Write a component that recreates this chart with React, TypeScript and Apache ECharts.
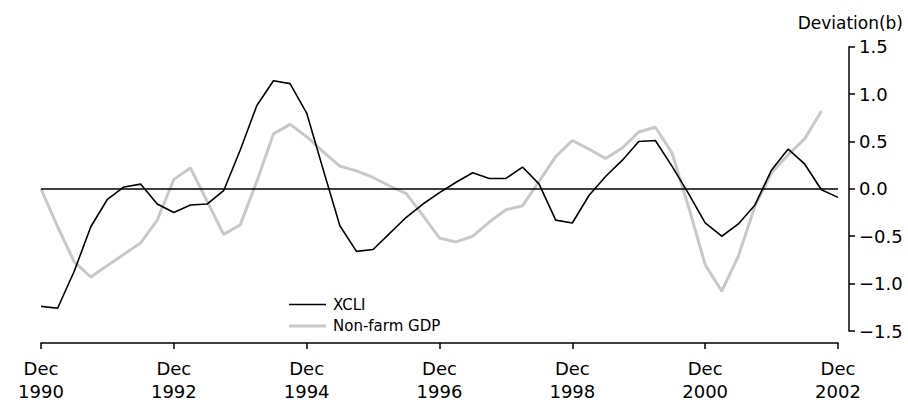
import React, { useEffect, useRef } from "react";
import * as echarts from "echarts";

const categories: string[] = [
  "Dec 1990", "Mar 1991", "Jun 1991", "Sep 1991",
  "Dec 1991", "Mar 1992", "Jun 1992", "Sep 1992",
  "Dec 1992", "Mar 1993", "Jun 1993", "Sep 1993",
  "Dec 1993", "Mar 1994", "Jun 1994", "Sep 1994",
  "Dec 1994", "Mar 1995", "Jun 1995", "Sep 1995",
  "Dec 1995", "Mar 1996", "Jun 1996", "Sep 1996",
  "Dec 1996", "Mar 1997", "Jun 1997", "Sep 1997",
  "Dec 1997", "Mar 1998", "Jun 1998", "Sep 1998",
  "Dec 1998", "Mar 1999", "Jun 1999", "Sep 1999",
  "Dec 1999", "Mar 2000", "Jun 2000", "Sep 2000",
  "Dec 2000", "Mar 2001", "Jun 2001", "Sep 2001",
  "Dec 2001", "Mar 2002", "Jun 2002", "Sep 2002",
  "Dec 2002",
];

const xcli: number[] = [
  -1.24, -1.26, -0.87, -0.4,
  -0.11, 0.02, 0.05, -0.16,
  -0.25, -0.17, -0.16, -0.02,
  0.41, 0.88, 1.14, 1.11,
  0.8, 0.2, -0.39, -0.66,
  -0.64, -0.47, -0.3, -0.16,
  -0.04, 0.07, 0.17, 0.11,
  0.11, 0.23, 0.05, -0.33,
  -0.36, -0.07, 0.13, 0.3,
  0.5, 0.51, 0.24, -0.05,
  -0.36, -0.5, -0.37, -0.17,
  0.2, 0.42, 0.26, -0.01,
  -0.09,
];

const nonFarmGdp: (number | null)[] = [
  0.0, -0.4, -0.77, -0.93,
  -0.81, -0.69, -0.57, -0.33,
  0.1, 0.22, -0.13, -0.48,
  -0.38, 0.08, 0.58, 0.68,
  0.55, 0.39, 0.24, 0.19,
  0.12, 0.03, -0.05, -0.28,
  -0.52, -0.56, -0.5, -0.35,
  -0.22, -0.18, 0.08, 0.34,
  0.51, 0.42, 0.32, 0.43,
  0.6, 0.65, 0.38, -0.19,
  -0.8, -1.08, -0.71, -0.18,
  0.17, 0.36, 0.53, 0.82,
  null,
];

const yTicks: number[] = [-1.5, -1.0, -0.5, 0.0, 0.5, 1.0, 1.5];

const FONT = "'DejaVu Sans', sans-serif";
const GRAY = "#c8c8c8";

export default function App() {
  const ref = useRef<HTMLDivElement>(null);
  useEffect(() => {
    if (!ref.current) return;
    const chart = echarts.init(ref.current, undefined, { renderer: "svg" });
    const legendBase = {
      orient: "vertical",
      left: 289,
      padding: 0,
      itemWidth: 37,
      icon: "rect",
      textStyle: { fontFamily: FONT, fontSize: 15, color: "#000", padding: [0, 0, 0, 2] },
    };
    chart.setOption({
      animation: false,
      backgroundColor: "#ffffff",
      textStyle: { fontFamily: FONT },
      grid: { left: 41, right: 70, top: 46.7, bottom: 66.3, containLabel: false },
      legend: [
        { ...legendBase, top: 297, itemHeight: 1.6, data: ["XCLI"] },
        { ...legendBase, top: 318.5, itemHeight: 3, data: ["Non-farm GDP"] },
      ],
      graphic: [
        {
          type: "text",
          right: 5,
          top: 14,
          style: { text: "Deviation(b)", font: `17px ${FONT}`, fill: "#000" },
        },
      ],
      xAxis: {
        type: "category",
        data: categories,
        boundaryGap: false,
        offset: 12,
        axisLine: { show: true, onZero: false, lineStyle: { color: "#000", width: 1.5 } },
        axisTick: { show: true, interval: 7, length: 6, lineStyle: { color: "#000", width: 1.5 } },
        axisLabel: {
          interval: 7,
          margin: 14,
          color: "#000",
          fontSize: 18,
          lineHeight: 23,
          fontFamily: FONT,
          formatter: (v: string) => v.replace(" ", "\n"),
        },
        splitLine: { show: false },
      },
      yAxis: {
        type: "value",
        position: "right",
        offset: 11,
        min: yTicks[0],
        max: yTicks[yTicks.length - 1],
        interval: 0.5,
        axisLine: { show: true, lineStyle: { color: "#000", width: 1.5 } },
        axisTick: { show: true, length: 6, lineStyle: { color: "#000", width: 1.5 } },
        axisLabel: {
          margin: 10,
          color: "#000",
          fontSize: 18,
          fontFamily: FONT,
          formatter: (v: number) => (v < 0 ? "\u2212" + Math.abs(v).toFixed(1) : v.toFixed(1)),
        },
        splitLine: { show: false },
      },
      series: [
        {
          name: "XCLI",
          type: "line",
          data: xcli,
          symbol: "none",
          z: 3,
          lineStyle: { color: "#000", width: 1.6 },
          itemStyle: { color: "#000" },
          markLine: {
            silent: true,
            symbol: "none",
            label: { show: false },
            lineStyle: { color: "#000", width: 1.5, type: "solid" },
            data: [{ yAxis: 0 }],
          },
        },
        {
          name: "Non-farm GDP",
          type: "line",
          data: nonFarmGdp,
          symbol: "none",
          z: 2,
          lineStyle: { color: GRAY, width: 3 },
          itemStyle: { color: GRAY },
        },
      ],
    });
    return () => chart.dispose();
  }, []);
  return (
    <div
      ref={ref}
      style={{ position: "fixed", left: 0, top: 0, width: 908, height: 403, background: "#fff" }}
    />
  );
}
